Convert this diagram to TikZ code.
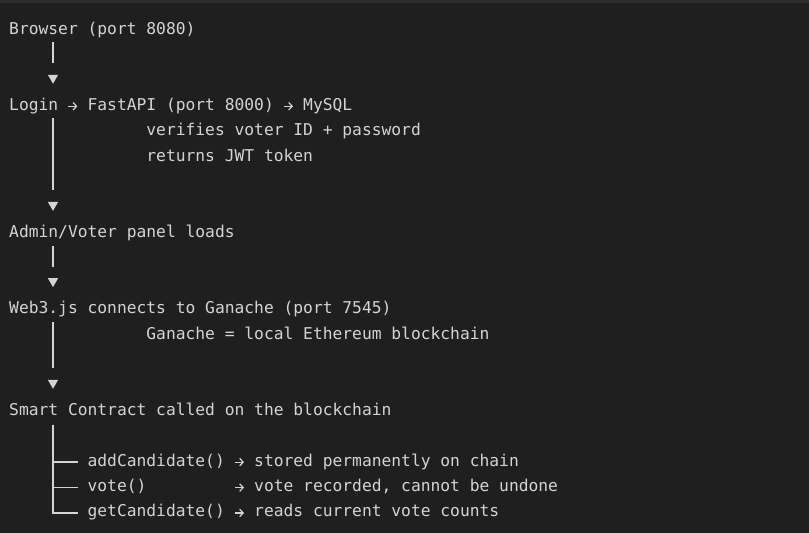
\documentclass[tikz,border=0pt]{standalone}
\usepackage{fontspec}
\setmonofont{DejaVu Sans Mono}
\usepackage{xcolor}
\usepackage{tikz}
\usetikzlibrary{arrows.meta}
\definecolor{codebg}{RGB}{31,31,31}
\definecolor{codetop}{RGB}{44,44,44}
\definecolor{codefg}{RGB}{212,212,212}
\tikzset{
  codeline/.style = {anchor=base west, inner sep=0pt, text height=12pt, text depth=4pt, text=codefg, font=\ttfamily\fontsize{16.28pt}{20pt}\selectfont},
  flow/.style = {draw=codefg, line width=1.3pt, shorten <=4pt, shorten >=14.3pt, dash pattern=on #1 off 200pt, -{Triangle[width=10pt,length=9pt]}},
  flow/.default = 21pt,
  branch/.style = {draw=codefg, line width=1.3pt, shorten <=5pt, shorten >=9.4pt},
  inl/.style = {draw=codefg, line width=1.2pt, shorten <=#1, shorten >=10pt, -{Straight Barb[length=3.5pt,width=7.5pt]}},
  inl/.default = 10pt
}

\begin{document}
\begin{tikzpicture}[x=1pt,y=-1pt]
\fill[codebg] (0,0) rectangle (809,533);
\fill[codetop] (0,0) rectangle (809,3);
\useasboundingbox (0,0) rectangle (809,533);

% stages
\node[codeline] (browser) at (9,34) {Browser (port 8080)};
\node[codeline] (login) at (9,110.26) {Login};
\node[codeline] (fastapi) at (87.4,110.26) {FastAPI (port 8000)};
\node[codeline] (mysql) at (303,110.26) {MySQL};
\node[codeline] (verify) at (146.2,135.68) {verifies voter ID + password};
\node[codeline] (jwt) at (146.2,161.1) {returns JWT token};
\node[codeline] (panel) at (9,237.36) {Admin/Voter panel loads};
\node[codeline] (web3) at (9,313.62) {Web3.js connects to Ganache (port 7545)};
\node[codeline] (ganache) at (146.2,339.04) {Ganache = local Ethereum blockchain};
\node[codeline] (contract) at (9,415.3) {Smart Contract called on the blockchain};

% contract functions
\node[codeline] (addc) at (87.4,466.14) {addCandidate()};
\node[codeline] (addres) at (254,466.14) {stored permanently on chain};
\node[codeline] (vote) at (87.4,491.56) {vote()};
\node[codeline] (voteres) at (254,491.56) {vote recorded, cannot be undone};
\node[codeline] (getc) at (87.4,516.98) {getCandidate()};
\node[codeline] (getres) at (254,516.98) {reads current vote counts};

% down the chain
\draw[flow] ([xshift=44pt]browser.south west) -- ([xshift=44pt]login.north west);
\draw[flow=71.8pt] ([xshift=44pt]login.south west) -- ([xshift=44pt]panel.north west);
\draw[flow] ([xshift=44pt]panel.south west) -- ([xshift=44pt]web3.north west);
\draw[flow=46.4pt] ([xshift=44pt]web3.south west) -- ([xshift=44pt]contract.north west);

% inline arrows
\draw[inl] (login) -- (fastapi);
\draw[inl=9.8pt] (fastapi) -- (mysql);
\draw[inl] (addc) -- (addres);
\draw[inl=88.2pt] (vote) -- (voteres);
\draw[inl] (getc) -- (getres);

% tree
\draw[branch] ([xshift=44pt]contract.south west) |- (addc.west);
\draw[branch] ([xshift=44pt]contract.south west) |- (vote.west);
\draw[branch] ([xshift=44pt]contract.south west) |- (getc.west);
\end{tikzpicture}
\end{document}
